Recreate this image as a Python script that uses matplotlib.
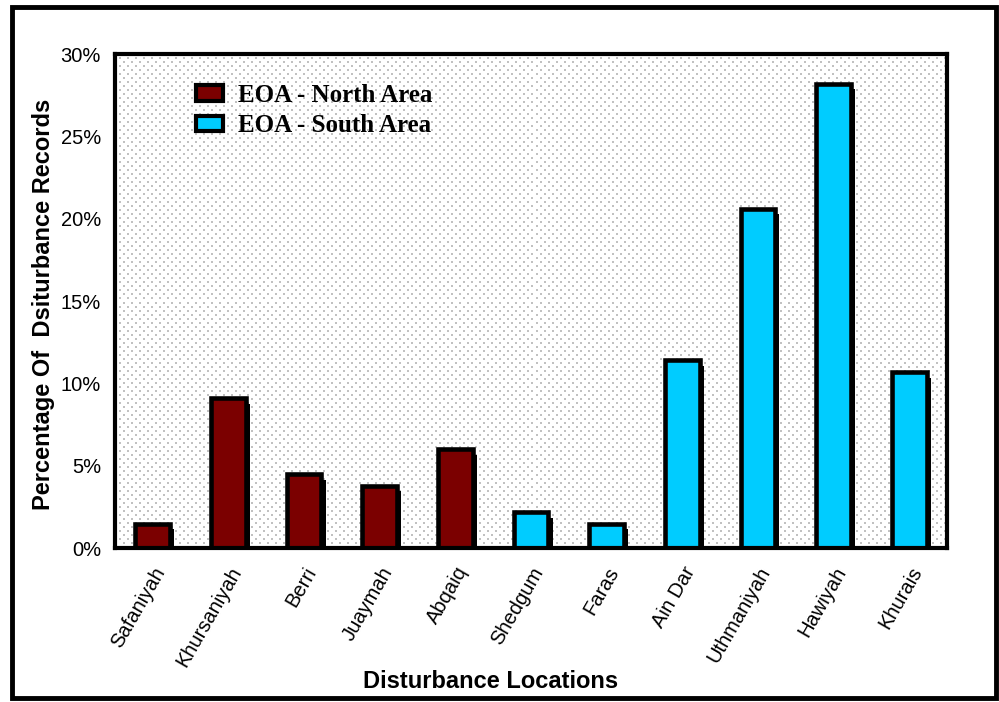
import matplotlib
matplotlib.use("Agg")
import numpy as np
import matplotlib.pyplot as plt
import matplotlib.patheffects as pe
from matplotlib.patches import Rectangle, Patch
from matplotlib.ticker import FuncFormatter

locations = ["Safaniyah", "Khursaniyah", "Berri", "Juaymah", "Abqaiq", "Shedgum",
             "Faras", "Ain Dar", "Uthmaniyah", "Hawiyah", "Khurais"]
values = [1.5, 9.1, 4.5, 3.8, 6.0, 2.2, 1.5, 11.4, 20.6, 28.2, 10.7]
areas = ["North", "North", "North", "North", "North", "South",
         "South", "South", "South", "South", "South"]
area_colors = {"North": "#7B0000", "South": "#00CCFF"}
area_labels = {"North": "EOA - North Area", "South": "EOA - South Area"}
yticks = [0, 5, 10, 15, 20, 25, 30]

fig = plt.figure(figsize=(9.99, 7.02), dpi=100)
ax = fig.add_axes([0.115, 0.219, 0.833, 0.704])

# dotted background texture (staggered light-gray dots)
W, H = 832, 494
tex = np.ones((H, W, 3))
for r in range(0, H, 4):
    off = 4 if (r // 4) % 2 else 0
    for c in range(off, W, 8):
        tex[r:r + 2, c:c + 2, :] = 0.76
ax.imshow(tex, extent=(0, 1, 0, 1), transform=ax.transAxes, aspect="auto",
          interpolation="nearest", zorder=0)

x = list(range(len(locations)))
colors = [area_colors[a] for a in areas]
bars = ax.bar(x, values, width=0.46, color=colors, edgecolor="black",
              linewidth=3.3, zorder=3)
for b in bars:
    b.set_path_effects([pe.SimplePatchShadow(offset=(3, -4), shadow_rgbFace="black",
                                             alpha=1.0), pe.Normal()])

ax.set_xlim(-0.5, len(locations) - 0.5)
ax.set_ylim(0, 30)
ax.set_yticks(yticks)
ax.yaxis.set_major_formatter(FuncFormatter(lambda v, p: f"{v:.0f}%"))
ax.set_xticks(x)
ax.set_xticklabels(locations, rotation=60, ha="right", rotation_mode="anchor",
                   fontsize=14.5, family="Liberation Sans")
for lab in ax.get_yticklabels():
    lab.set_fontsize(14.5)
    lab.set_family("Liberation Sans")
ax.tick_params(axis="y", length=0, pad=10)
ax.tick_params(axis="x", length=0, pad=11)
for s in ax.spines.values():
    s.set_linewidth(3)
    s.set_zorder(5)

ax.set_ylabel("Percentage Of  Dsiturbance Records", fontsize=17, fontweight="bold",
              family="Liberation Sans")
ax.yaxis.set_label_coords(-0.072, 0.493)
ax.set_xlabel("Disturbance Locations", fontsize=17, fontweight="bold",
              family="Liberation Sans")
ax.xaxis.set_label_coords(0.451, -0.247)

handles = [Patch(facecolor=area_colors[k], edgecolor="black", linewidth=3,
                 label=area_labels[k]) for k in ["North", "South"]]
ax.legend(handles=handles, loc="upper left", bbox_to_anchor=(0.085, 0.96),
          frameon=False, prop={"family": "Liberation Serif", "weight": "bold", "size": 18},
          handlelength=1.1, handleheight=0.6, handletextpad=0.6, labelspacing=0.3,
          borderaxespad=0)

frame = Rectangle((0.012, 0.006), 0.985, 0.984, transform=fig.transFigure,
                  fill=False, edgecolor="black", linewidth=3.5)
fig.patches.append(frame)

fig.savefig("out.png", dpi=100)
